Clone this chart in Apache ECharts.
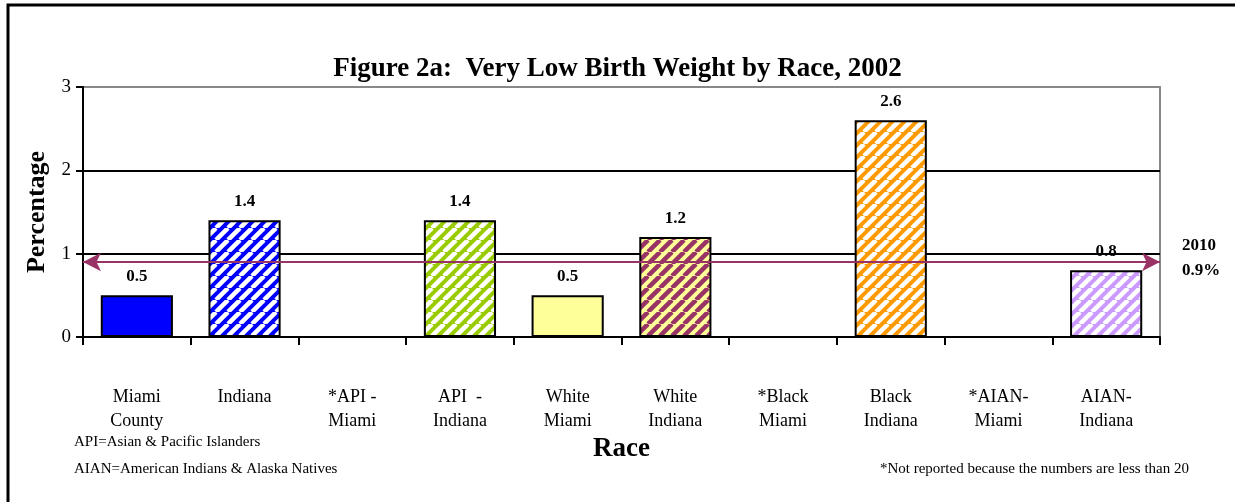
<!DOCTYPE html>
<html>
<head>
<meta charset="utf-8">
<script src="https://cdn.jsdelivr.net/npm/echarts@6/dist/echarts.min.js"></script>
<style>
  html, body { margin: 0; padding: 0; background: #fff; }
  #main { width: 1235px; height: 502px; }
</style>
</head>
<body>
<div id="main"></div>
<script>
// data
var categories = ['Miami\nCounty', 'Indiana', '*API -\nMiami', 'API  -\nIndiana', 'White\nMiami',
  'White\nIndiana', '*Black\nMiami', 'Black\nIndiana', '*AIAN-\nMiami', 'AIAN-\nIndiana'];
var values = [0.5, 1.4, null, 1.4, 0.5, 1.2, null, 2.6, null, 0.8];
var target2010 = 0.9;
var yTicks = [0, 1, 2, 3];

// styles per bar: base colour and stripe colour (null = plain)
var fills = ['#0000FF', '#0000FF', null, '#99CC00', '#FFFF99', '#FFFF99', null, '#FF9900', null, '#CC99FF'];
var stripes = [null, '#FFFFFF', null, '#FFFFFF', null, '#993366', null, '#FFFFFF', null, '#FFFFFF'];

var serif = '"Liberation Serif", "Times New Roman", serif';

function stripePattern(base, stripe) {
  var s = 12;
  var c = document.createElement('canvas');
  c.width = s; c.height = s;
  var ctx = c.getContext('2d');
  ctx.fillStyle = base;
  ctx.fillRect(0, 0, s, s);
  ctx.strokeStyle = stripe;
  ctx.lineWidth = 4.5;
  for (var k = -1; k <= 1; k++) {
    ctx.beginPath();
    ctx.moveTo(k * s, s);
    ctx.lineTo(k * s + s, 0);
    ctx.stroke();
  }
  return { image: c, repeat: 'repeat' };
}

var barData = values.map(function (v, i) {
  if (v == null) return { value: null };
  var color = stripes[i] ? stripePattern(fills[i], stripes[i]) : fills[i];
  return {
    value: v,
    itemStyle: { color: color, borderColor: '#000', borderWidth: 2 }
  };
});

var chart = echarts.init(document.getElementById('main'));
var option = {
  animation: false,
  backgroundColor: '#fff',
  title: {
    text: 'Figure 2a:  Very Low Birth Weight by Race, 2002',
    left: 'center',
    top: 51,
    textStyle: { fontFamily: serif, fontWeight: 'bold', fontSize: 27, color: '#000' }
  },
  grid: {
    left: 83, right: 75, top: 87, bottom: 165,
    show: true, borderColor: '#888', borderWidth: 2
  },
  xAxis: {
    type: 'category',
    data: categories,
    name: 'Race',
    nameLocation: 'middle',
    nameGap: 99,
    nameTextStyle: { fontFamily: serif, fontWeight: 'bold', fontSize: 27, color: '#000' },
    axisLine: { lineStyle: { color: '#000', width: 2 } },
    axisTick: { show: true, length: 8, lineStyle: { color: '#000', width: 2 } },
    axisLabel: { fontFamily: serif, fontSize: 18, color: '#000', lineHeight: 24, margin: 48, interval: 0 }
  },
  yAxis: {
    type: 'value',
    min: yTicks[0],
    max: yTicks[yTicks.length - 1],
    interval: 1,
    name: 'Percentage',
    nameLocation: 'middle',
    nameGap: 32,
    nameTextStyle: { fontFamily: serif, fontWeight: 'bold', fontSize: 26, color: '#000' },
    axisLine: { show: true, lineStyle: { color: '#000', width: 2 } },
    axisTick: { show: true, length: 7, lineStyle: { color: '#000', width: 2 } },
    axisLabel: { fontFamily: serif, fontSize: 19, color: '#000', margin: 12 },
    splitLine: { show: true, lineStyle: { color: ['#000', '#000', '#000', '#888'], width: 2 } }
  },
  series: [{
    type: 'bar',
    data: barData,
    barWidth: '67%',
    label: {
      show: true,
      position: 'top',
      distance: 10,
      fontFamily: serif,
      fontWeight: 'bold',
      fontSize: 17,
      color: '#000',
      formatter: function (p) { return p.value == null ? '' : p.value.toFixed(1); }
    },
    markLine: {
      silent: true,
      symbol: ['arrow', 'arrow'],
      symbolSize: [14, 18],
      lineStyle: { color: '#993366', width: 2, type: 'solid' },
      label: {
        show: true,
        position: 'end',
        distance: 22,
        offset: [0, -4],
        formatter: '2010\n0.9%',
        fontFamily: serif,
        fontWeight: 'bold',
        fontSize: 17,
        lineHeight: 25,
        color: '#000'
      },
      data: [{ yAxis: target2010 }]
    }
  }],
  graphic: [
    {
      type: 'rect',
      shape: { x: 8, y: 5, width: 1400, height: 700 },
      style: { fill: 'none', stroke: '#000', lineWidth: 3 },
      silent: true
    },
    {
      type: 'text', left: 74, top: 435,
      style: { text: 'API=Asian & Pacific Islanders', fontFamily: serif, fontSize: 15, fill: '#000' }
    },
    {
      type: 'text', left: 74, top: 462,
      style: { text: 'AIAN=American Indians & Alaska Natives', fontFamily: serif, fontSize: 15, fill: '#000' }
    },
    {
      type: 'text', right: 46, top: 462,
      style: { text: '*Not reported because the numbers are less than 20', fontFamily: serif, fontSize: 15, fill: '#000' }
    }
  ]
};
chart.setOption(option);
</script>
</body>
</html>
